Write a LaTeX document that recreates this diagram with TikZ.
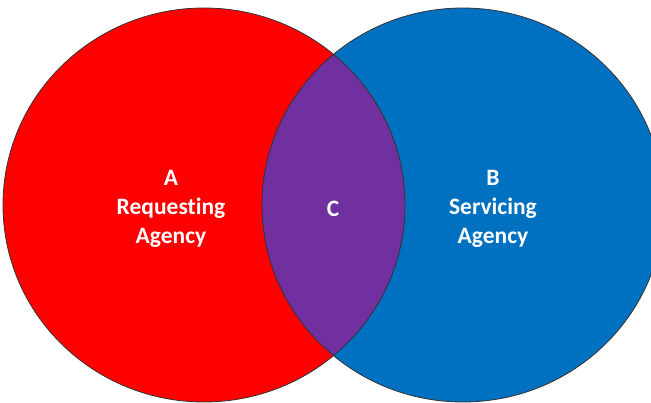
\documentclass[tikz,border=0pt]{standalone}
\usepackage{fontspec}
\setmainfont[Ligatures=NoCommon]{Carlito}
\definecolor{rojo}{HTML}{FF0000}
\definecolor{azul}{HTML}{0070C0}
\definecolor{morado}{HTML}{7030A0}
\tikzset{
    etiqueta/.style={text=white,font=\bfseries\fontsize{23.5}{29}\selectfont,align=center,inner sep=0pt},
    borde/.style={draw=black!80,line width=0.8pt}
}
\begin{document}
\begin{tikzpicture}[x=1pt,y=1pt]
    % Marco
    \clip (0,0) rectangle (651,402);

    % Conjuntos
    \fill[rojo] (204,197) ellipse (201pt and 197pt);
    \fill[azul] (463,197) ellipse (201pt and 197pt);

    % Interseccion
    \begin{scope}
        \clip (204,197) ellipse (201pt and 197pt);
        \fill[morado] (463,197) ellipse (201pt and 197pt);
    \end{scope}

    % Bordes
    \draw[borde] (204,197) ellipse (201pt and 197pt);
    \draw[borde] (463,197) ellipse (201pt and 197pt);

    % Etiquetas
    \node[etiqueta] (a) at (171,193) {A\\Requesting\\Agency};
    \node[etiqueta] (c) at (333,193) {C};
    \node[etiqueta] (b) at (493,193) {B\\Servicing\\Agency};
\end{tikzpicture}
\end{document}
